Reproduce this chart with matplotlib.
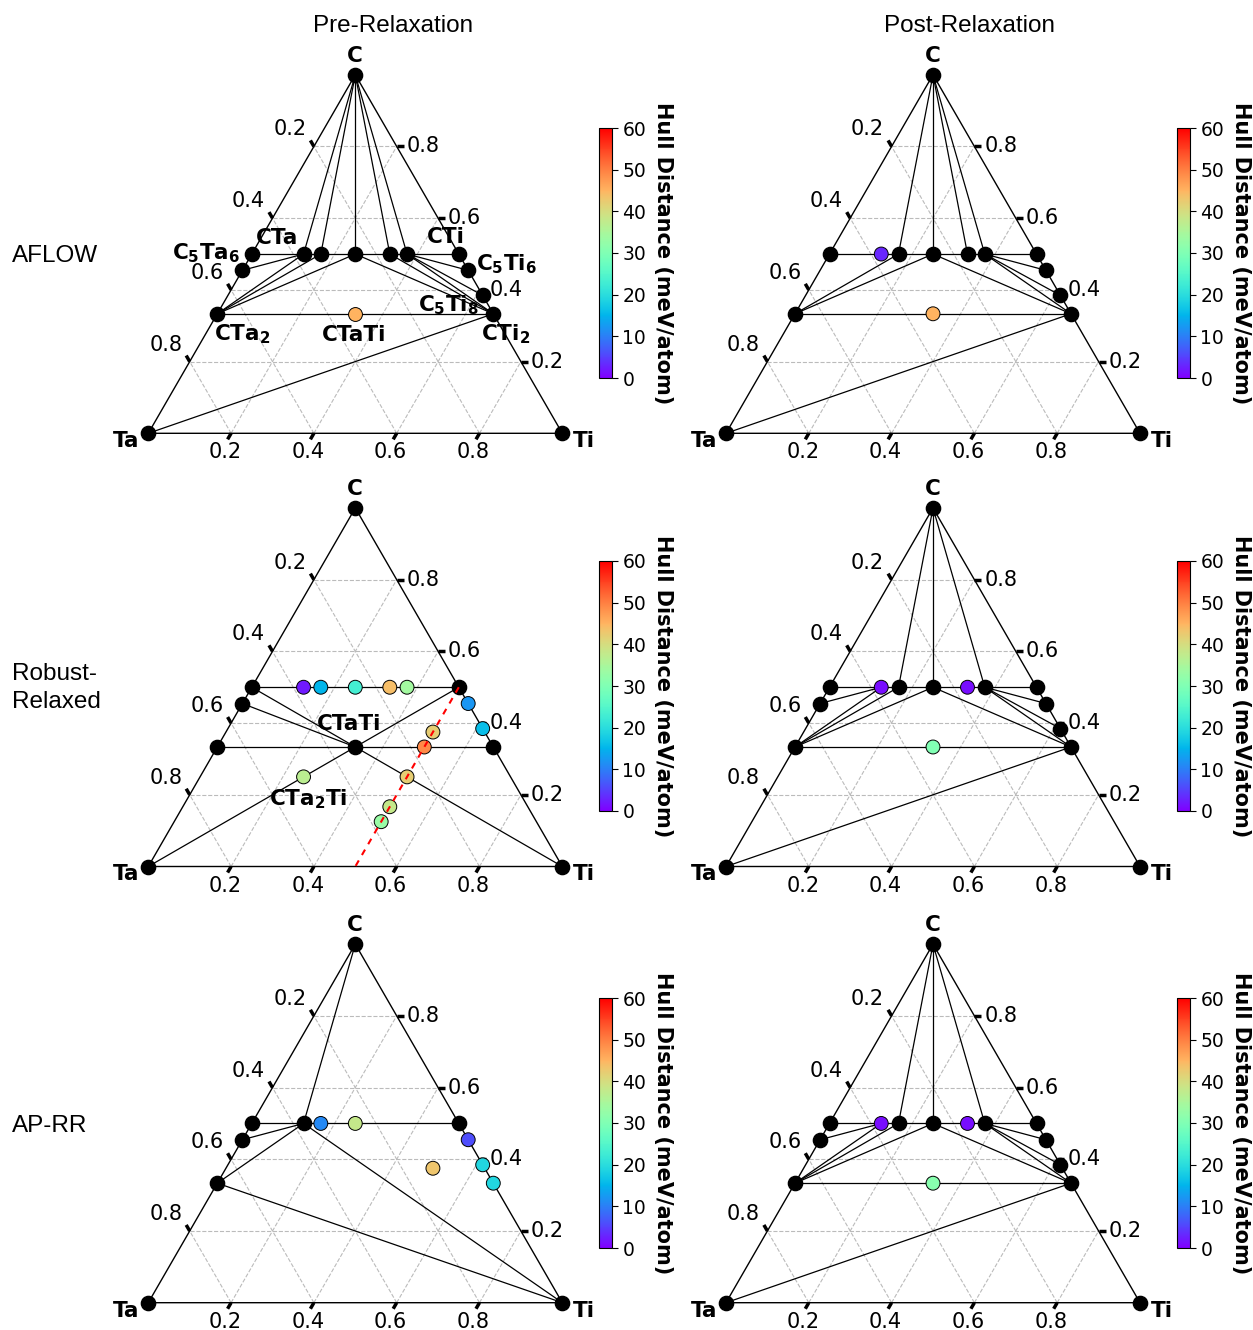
import numpy as np
import matplotlib
matplotlib.use("Agg")
import matplotlib.pyplot as plt
from matplotlib import cm, colors

W, H = 1253, 1330
L = 414.0                 # triangle side in pixels
SQ = np.sqrt(3) / 2

# compositions as (Ti fraction, C fraction); Ta is the rest
comp = {
    "C": (0, 1), "Ta": (0, 0), "Ti": (1, 0), "TaTi": (1/2, 0),
    "CTa": (0, 1/2), "C4Ta3Ti": (1/8, 1/2), "C3Ta2Ti": (1/6, 1/2),
    "C2TaTi": (1/4, 1/2), "C3TaTi2": (1/3, 1/2), "C4TaTi3": (3/8, 1/2),
    "CTi": (1/2, 1/2),
    "C5Ta6": (0, 5/11), "C5Ti6": (6/11, 5/11), "C5Ti8": (8/13, 5/13),
    "CTa2": (0, 1/3), "CTaTi": (1/3, 1/3), "CTi2": (2/3, 1/3),
    "C3TaTi4": (1/2, 3/8), "C2TaTi3": (1/2, 1/3), "CTaTi2": (1/2, 1/4),
    "CTa2Ti3": (1/2, 1/6), "CTa3Ti4": (1/2, 1/8), "CTa2Ti": (1/4, 1/4),
}

# AFLOW, pre-relaxation
aflow_pre_hull = ["C", "Ta", "Ti", "CTa", "C4Ta3Ti", "C3Ta2Ti", "C2TaTi", "C3TaTi2",
                  "C4TaTi3", "CTi", "C5Ta6", "C5Ti6", "C5Ti8", "CTa2", "CTi2"]
aflow_pre_ties = [("C", "C4Ta3Ti"), ("C", "C3Ta2Ti"), ("C", "C2TaTi"), ("C", "C3TaTi2"),
                  ("C", "C4TaTi3"), ("CTa", "CTi"), ("C5Ta6", "C4Ta3Ti"), ("CTa2", "C4Ta3Ti"),
                  ("CTa2", "C3Ta2Ti"), ("CTa2", "C2TaTi"), ("CTa2", "CTi2"), ("Ta", "CTi2"),
                  ("C2TaTi", "CTi2"), ("C3TaTi2", "CTi2"), ("C4TaTi3", "CTi2"),
                  ("C4TaTi3", "C5Ti8"), ("C4TaTi3", "C5Ti6")]
aflow_pre_new = ["CTaTi"]
aflow_pre_dist = [45]

# AFLOW, post-relaxation
aflow_post_hull = ["C", "Ta", "Ti", "CTa", "C3Ta2Ti", "C2TaTi", "C3TaTi2", "C4TaTi3",
                   "CTi", "C5Ti6", "C5Ti8", "CTa2", "CTi2"]
aflow_post_ties = [("C", "C3Ta2Ti"), ("C", "C2TaTi"), ("C", "C3TaTi2"), ("C", "C4TaTi3"),
                   ("CTa", "CTi"), ("CTa2", "C3Ta2Ti"), ("CTa2", "C2TaTi"), ("CTa2", "CTi2"),
                   ("Ta", "CTi2"), ("C2TaTi", "CTi2"), ("C4TaTi3", "C5Ti6"),
                   ("C4TaTi3", "C5Ti8"), ("C4TaTi3", "CTi2")]
aflow_post_new = ["C4Ta3Ti", "CTaTi"]
aflow_post_dist = [3, 45]

# Robust-Relaxed, pre-relaxation
rr_pre_hull = ["C", "Ta", "Ti", "CTa", "CTi", "C5Ta6", "CTa2", "CTaTi", "CTi2"]
rr_pre_ties = [("CTa", "CTi"), ("CTa2", "CTi2"), ("CTa", "CTaTi"), ("C5Ta6", "CTaTi"),
               ("CTi", "CTaTi"), ("Ta", "CTaTi"), ("CTaTi", "Ti")]
rr_pre_new = ["C4Ta3Ti", "C3Ta2Ti", "C2TaTi", "C3TaTi2", "C4TaTi3", "C5Ti6", "C5Ti8",
              "C3TaTi4", "C2TaTi3", "CTaTi2", "CTa2Ti3", "CTa3Ti4", "CTa2Ti"]
rr_pre_dist = [2, 15, 23, 44, 34, 12, 16, 42, 49, 42, 38, 33, 37]
rr_pre_cut = ("CTi", "TaTi")

# Robust-Relaxed, post-relaxation
rr_post_hull = ["C", "Ta", "Ti", "CTa", "C3Ta2Ti", "C2TaTi", "C4TaTi3", "CTi",
                "C5Ta6", "C5Ti6", "C5Ti8", "CTa2", "CTi2"]
rr_post_ties = [("C", "C3Ta2Ti"), ("C", "C2TaTi"), ("C", "C4TaTi3"), ("CTa", "CTi"),
                ("C5Ta6", "C4Ta3Ti"), ("CTa2", "C4Ta3Ti"), ("CTa2", "C3Ta2Ti"),
                ("CTa2", "C2TaTi"), ("CTa2", "CTi2"), ("Ta", "CTi2"), ("C2TaTi", "CTi2"),
                ("C4TaTi3", "C5Ti6"), ("C4TaTi3", "C5Ti8"), ("C4TaTi3", "CTi2")]
rr_post_new = ["C4Ta3Ti", "C3TaTi2", "CTaTi"]
rr_post_dist = [1, 1, 30]

# AP-RR, pre-relaxation
aprr_pre_hull = ["C", "Ta", "Ti", "CTa", "C4Ta3Ti", "CTi", "C5Ta6", "CTa2"]
aprr_pre_ties = [("C", "C4Ta3Ti"), ("CTa", "CTi"), ("C5Ta6", "C4Ta3Ti"),
                 ("CTa2", "C4Ta3Ti"), ("CTa2", "Ti"), ("C4Ta3Ti", "Ti")]
aprr_pre_new = ["C3Ta2Ti", "C2TaTi", "C5Ti6", "C5Ti8", "CTi2", "C3TaTi4"]
aprr_pre_dist = [11, 38, 6, 19, 19, 43]

# AP-RR, post-relaxation
aprr_post_hull = rr_post_hull
aprr_post_ties = rr_post_ties
aprr_post_new = ["C4Ta3Ti", "C3TaTi2", "CTaTi"]
aprr_post_dist = [1, 1, 31]

col_titles = ["Pre-Relaxation", "Post-Relaxation"]
row_titles = ["AFLOW", "Robust-\nRelaxed", "AP-RR"]
ticks = [0.2, 0.4, 0.6, 0.8]

pre_labels = {
    "CTa": "CTa", "C5Ta6": r"C$_\mathbf{5}$Ta$_\mathbf{6}$", "CTi": "CTi",
    "C5Ti6": r"C$_\mathbf{5}$Ti$_\mathbf{6}$", "C5Ti8": r"C$_\mathbf{5}$Ti$_\mathbf{8}$",
    "CTa2": r"CTa$_\mathbf{2}$", "CTaTi": "CTaTi", "CTi2": r"CTi$_\mathbf{2}$",
    "CTa2Ti": r"CTa$_\mathbf{2}$Ti",
}

cmap = plt.get_cmap("rainbow")
norm = colors.Normalize(0, 60)


def xy(name):
    t, c = comp[name]
    return t + c / 2, c * SQ


def frame(ax):
    ax.plot([0, 1, 0.5, 0], [0, 0, SQ, 0], color="k", lw=1, zorder=2)
    gkw = dict(color="#bbbbbb", ls="--", lw=0.8, zorder=1)
    for g in ticks:
        ax.plot([g / 2, 1 - g / 2], [g * SQ, g * SQ], **gkw)
        ax.plot([g, g + (1 - g) / 2], [0, (1 - g) * SQ], **gkw)
        ax.plot([1 - g, (1 - g) / 2], [0, (1 - g) * SQ], **gkw)
    tl = 7 / L
    tkw = dict(color="k", lw=2.5, solid_capstyle="butt", zorder=2, clip_on=False)
    for g in ticks:
        # right axis: C
        p = (1 - g / 2, g * SQ)
        ax.plot([p[0], p[0] + tl], [p[1], p[1]], **tkw)
        ax.annotate(f"{g:.1f}", p, xytext=(10, 0), textcoords="offset pixels",
                    ha="left", va="center", fontsize=15)
        # left axis: Ta
        p = ((1 - g) / 2, (1 - g) * SQ)
        ax.plot([p[0], p[0] - 0.5 * tl], [p[1], p[1] + SQ * tl], **tkw)
        ax.annotate(f"{g:.1f}", p, xytext=(-24, 17), textcoords="offset pixels",
                    ha="center", va="center", fontsize=15)
        # bottom axis: Ti
        p = (g, 0)
        ax.plot([p[0], p[0] - 0.5 * tl], [p[1], p[1] - SQ * tl], **tkw)
        ax.annotate(f"{g:.1f}", p, xytext=(-6, -19), textcoords="offset pixels",
                    ha="center", va="center", fontsize=15)
    for name, off in [("C", (0, 19)), ("Ta", (-22, -8)), ("Ti", (22, -8))]:
        ax.annotate(name, xy(name), xytext=off, textcoords="offset pixels",
                    ha="center", va="center", fontsize=15.5, fontweight="bold")


def panel(ax, hull, ties, new, dist):
    frame(ax)
    for a, b in ties:
        pa, pb = xy(a), xy(b)
        ax.plot([pa[0], pb[0]], [pa[1], pb[1]], color="k", lw=0.9, zorder=3)
    hx, hy = zip(*[xy(n) for n in hull])
    ax.scatter(hx, hy, s=105, color="k", zorder=4, clip_on=False)
    nx, ny = zip(*[xy(n) for n in new])
    ax.scatter(nx, ny, s=100, c=dist, cmap=cmap, norm=norm, edgecolors="k",
               linewidths=0.7, zorder=5, clip_on=False)


fig = plt.figure(figsize=(W / 100, H / 100), dpi=100)

origins = [(148.3, 433.3), (726.0, 433.3), (148.3, 866.5),
           (726.0, 866.5), (148.3, 1302.7), (726.0, 1302.7)]
panels = [
    (aflow_pre_hull, aflow_pre_ties, aflow_pre_new, aflow_pre_dist),
    (aflow_post_hull, aflow_post_ties, aflow_post_new, aflow_post_dist),
    (rr_pre_hull, rr_pre_ties, rr_pre_new, rr_pre_dist),
    (rr_post_hull, rr_post_ties, rr_post_new, rr_post_dist),
    (aprr_pre_hull, aprr_pre_ties, aprr_pre_new, aprr_pre_dist),
    (aprr_post_hull, aprr_post_ties, aprr_post_new, aprr_post_dist),
]
cbar_x = [599, 1177]
cbar_top = [128, 561, 998]

axes = []
pad, padv = 70, 40
Hp = L * SQ
for i, (x0, y0) in enumerate(origins):
    ax = fig.add_axes([(x0 - pad) / W, (H - y0 - padv) / H,
                       (L + 2 * pad) / W, (Hp + 2 * padv) / H])
    ax.set_xlim(-pad / L, 1 + pad / L)
    ax.set_ylim(-padv / L, (Hp + padv) / L)
    ax.axis("off")
    panel(ax, *panels[i])
    axes.append(ax)

    r, c = divmod(i, 2)
    cax = fig.add_axes([cbar_x[c] / W, (H - cbar_top[r] - 250) / H, 13 / W, 250 / H])
    cb = fig.colorbar(cm.ScalarMappable(norm=norm, cmap=cmap), cax=cax,
                      ticks=range(0, 61, 10))
    cb.ax.tick_params(labelsize=13.5, length=4)
    cb.outline.set_linewidth(0.8)
    fig.text((cbar_x[c] + 64) / W, 1 - (cbar_top[r] + 125) / H,
             "Hull Distance (meV/atom)", rotation=270, ha="center", va="center",
             fontsize=15, fontweight="bold")

# red cut through Ti = 0.5
pa, pb = xy(rr_pre_cut[0]), xy(rr_pre_cut[1])
axes[2].plot([pa[0], pb[0]], [pa[1], pb[1]], color="red", ls=(0, (3, 3)), lw=1.5, zorder=6)

# compound labels
for name, off in [("CTa", (25, 16)), ("C5Ta6", (-36, 17)), ("CTi", (-13, 17)),
                  ("C5Ti6", (38, 6)), ("C5Ti8", (-34, -10)), ("CTa2", (25, -20)),
                  ("CTaTi", (-1, -21)), ("CTi2", (12, -20))]:
    axes[0].annotate(pre_labels[name], xy(name), xytext=off, textcoords="offset pixels",
                     ha="center", va="center", fontsize=15.5, fontweight="bold", zorder=7)
for name, off in [("CTaTi", (-6, 23)), ("CTa2Ti", (5, -22))]:
    axes[2].annotate(pre_labels[name], xy(name), xytext=off, textcoords="offset pixels",
                     ha="center", va="center", fontsize=15.5, fontweight="bold", zorder=7)

for c, t in enumerate(col_titles):
    fig.text([393, 970][c] / W, 1 - 26 / H, t, ha="center", va="center",
             fontsize=17.5, family="Liberation Sans")
for r, t in enumerate(row_titles):
    fig.text(12 / W, 1 - [256, 688, 1126][r] / H, t, ha="left", va="center",
             fontsize=17.5, family="Liberation Sans", linespacing=1.35)

fig.savefig("out.png", dpi=100)
